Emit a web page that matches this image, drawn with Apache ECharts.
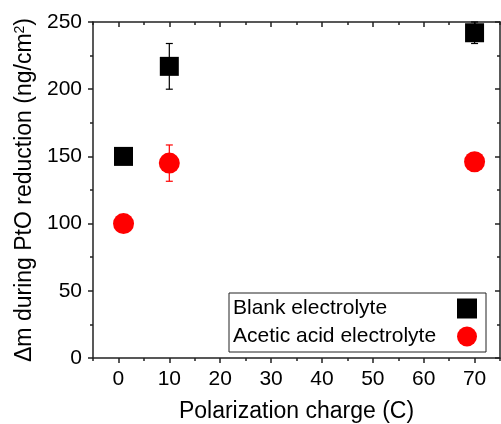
<!DOCTYPE html>
<html>
<head>
<meta charset="utf-8">
<script src="https://cdn.jsdelivr.net/npm/echarts@6/dist/echarts.min.js"></script>
<style>
  html, body { margin: 0; padding: 0; background: #fff; }
  #chart { width: 501px; height: 424px; }
</style>
</head>
<body>
<div id="chart"></div>
<script>
var xCharge = [1, 10, 70];
var blankMean = [150, 217, 242];
var blankErr = [0, 17, 8];
var aceticMean = [100, 145, 146];
var aceticErr = [0, 13.5, 0];
var xMajor = [0, 10, 20, 30, 40, 50, 60, 70];
var xMinor = [-5, 5, 15, 25, 35, 45, 55, 65, 75];

(function() {
  var font = 'Liberation Sans, Arial, sans-serif';
  var ink = '#000';
  var chart = echarts.init(document.getElementById('chart'), null, { renderer: 'canvas' });

  function pairs(ys) {
    return xCharge.map(function(x, i) { return [x, ys[i]]; });
  }
  function errRows(ys, es) {
    return xCharge.map(function(x, i) { return [x, ys[i] - es[i], ys[i] + es[i]]; });
  }
  function errBar(color) {
    return function(params, api) {
      if (api.value(2) === api.value(1)) return;
      var lo = api.coord([api.value(0), api.value(1)]);
      var hi = api.coord([api.value(0), api.value(2)]);
      var w = 3.5;
      var st = { stroke: color, lineWidth: 1.2 };
      return {
        type: 'group',
        children: [
          { type: 'line', shape: { x1: lo[0], y1: lo[1], x2: hi[0], y2: hi[1] }, style: st },
          { type: 'line', shape: { x1: lo[0] - w, y1: lo[1], x2: lo[0] + w, y2: lo[1] }, style: st },
          { type: 'line', shape: { x1: hi[0] - w, y1: hi[1], x2: hi[0] + w, y2: hi[1] }, style: st }
        ]
      };
    };
  }

  var lineStyle = { color: '#222', width: 1.5 };

  function xAx(pos, showLine, len, vals, inside) {
    return {
      type: 'value', position: pos, min: -5, max: 75,
      axisLine: { show: showLine, onZero: false, lineStyle: lineStyle },
      axisTick: { show: true, inside: inside, length: len, customValues: vals, lineStyle: lineStyle },
      axisLabel: { show: false },
      splitLine: { show: false }
    };
  }

  var bottomMain = xAx('bottom', true, 5, xMajor, false);
  bottomMain.axisLabel = { show: true, customValues: xMajor, fontSize: 21, color: ink, margin: 11, fontFamily: font };
  bottomMain.name = 'Polarization charge (C)';
  bottomMain.nameLocation = 'middle';
  bottomMain.nameGap = 42;
  bottomMain.nameTextStyle = { fontSize: 23, color: ink, fontFamily: font };

  chart.setOption({
    animation: false,
    backgroundColor: '#fff',
    textStyle: { fontFamily: font },
    grid: { left: 93, right: 1, top: 22, bottom: 66, containLabel: false, outerBoundsMode: 'none' },
    legend: {
      data: ['Blank electrolyte', 'Acetic acid electrolyte'],
      orient: 'vertical',
      align: 'right',
      left: 229,
      top: 293,
      padding: [5, 9, 5, 4],
      itemGap: 7,
      itemWidth: 20,
      itemHeight: 20,
      borderColor: '#222',
      borderWidth: 1,
      borderRadius: 0,
      backgroundColor: '#fff',
      formatter: '{t|{name}}',
      textStyle: {
        fontSize: 21, color: ink, fontFamily: font,
        rich: { t: { width: 219, align: 'left', fontSize: 21, color: ink, fontFamily: font } }
      }
    },
    xAxis: [
      bottomMain,
      xAx('bottom', false, 3, xMinor, false),
      xAx('top', true, 5, xMajor, true),
      xAx('top', false, 3, xMinor, true)
    ],
    yAxis: [
      {
        type: 'value', position: 'left', min: 0, max: 250, interval: 50,
        axisLine: { show: true, onZero: false, lineStyle: lineStyle },
        axisTick: { show: true, inside: false, length: 5, lineStyle: lineStyle },
        minorTick: { show: true, splitNumber: 2, length: 3, lineStyle: lineStyle },
        axisLabel: { fontSize: 21, color: ink, margin: 11, fontFamily: font },
        splitLine: { show: false },
        name: 'Δm during PtO reduction (ng/cm{sup|2})',
        nameLocation: 'middle',
        nameGap: 54,
        nameTextStyle: {
          fontSize: 23, color: ink, fontFamily: font,
          rich: { sup: { fontSize: 14, color: ink, fontFamily: font, verticalAlign: 'top', padding: [0, 0, 8, 0] } }
        }
      },
      {
        type: 'value', position: 'right', min: 0, max: 250, interval: 50,
        axisLine: { show: true, onZero: false, lineStyle: lineStyle },
        axisTick: { show: true, inside: true, length: 5, lineStyle: lineStyle },
        minorTick: { show: true, splitNumber: 2, length: 3, lineStyle: lineStyle },
        axisLabel: { show: false },
        splitLine: { show: false }
      }
    ],
    series: [
      {
        name: 'blank-err', type: 'custom', xAxisIndex: 0, yAxisIndex: 0,
        renderItem: errBar('#000'), data: errRows(blankMean, blankErr), z: 1
      },
      {
        name: 'acetic-err', type: 'custom', xAxisIndex: 0, yAxisIndex: 0,
        renderItem: errBar('#ff0000'), data: errRows(aceticMean, aceticErr), z: 1
      },
      {
        name: 'Blank electrolyte', type: 'scatter', xAxisIndex: 0, yAxisIndex: 0,
        symbol: 'rect', symbolSize: 19,
        itemStyle: { color: '#000', opacity: 1 },
        data: pairs(blankMean), z: 3
      },
      {
        name: 'Acetic acid electrolyte', type: 'scatter', xAxisIndex: 0, yAxisIndex: 0,
        symbol: 'circle', symbolSize: 21,
        itemStyle: { color: '#ff0000', opacity: 1 },
        data: pairs(aceticMean), z: 3
      }
    ]
  });

  window.addEventListener('resize', function() { chart.resize(); });
})();
</script>
</body>
</html>
